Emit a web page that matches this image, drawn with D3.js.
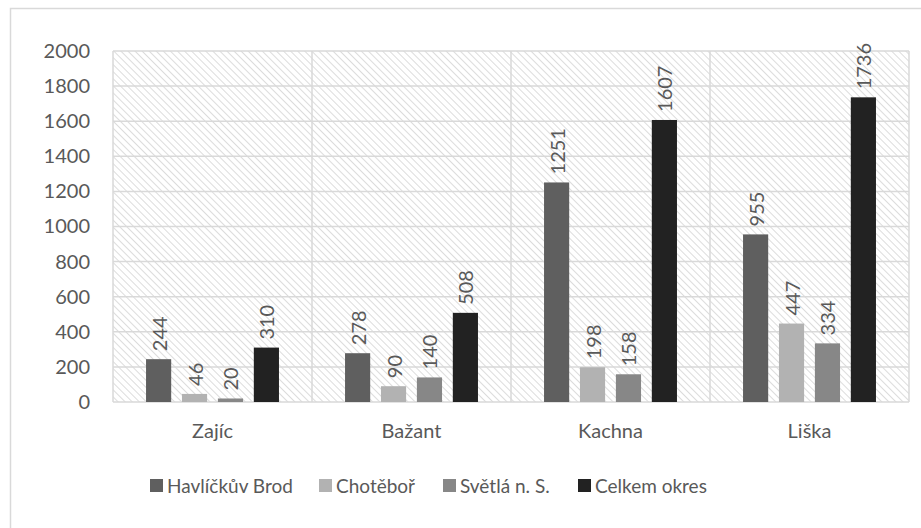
<!DOCTYPE html>
<html>
<head>
<meta charset="utf-8">
<script src="https://cdn.jsdelivr.net/npm/d3@7"></script>
<style>
  body { margin: 0; background: #fff; }
  svg text { font-family: Lato, "Open Sans", sans-serif; fill: #595959; }
</style>
</head>
<body>
<script>
// data
var categories = ['Zajíc', 'Bažant', 'Kachna', 'Liška'];
var seriesNames = ['Havlíčkův Brod', 'Chotěboř', 'Světlá n. S.', 'Celkem okres'];
var havlickuvBrod = [244, 278, 1251, 955];
var chotebor = [46, 90, 198, 447];
var svetla = [20, 140, 158, 334];
var celkem = [310, 508, 1607, 1736];
var yTicks = [0, 200, 400, 600, 800, 1000, 1200, 1400, 1600, 1800, 2000];
var colors = ['#5f5f5f', '#b2b2b2', '#878787', '#222222'];

var seriesValues = [havlickuvBrod, chotebor, svetla, celkem];

var W = 921, H = 528;
var margin = { top: 51, right: 12, bottom: 126, left: 113 };
var width = W - margin.left - margin.right,
    height = H - margin.top - margin.bottom;

var svg = d3.select('body').append('svg')
    .attr('width', W)
    .attr('height', H);

// hatch pattern in plot area
var defs = svg.append('defs');
var pat = defs.append('pattern')
    .attr('id', 'hatch')
    .attr('patternUnits', 'userSpaceOnUse')
    .attr('width', 5)
    .attr('height', 5)
    .attr('patternTransform', 'rotate(-45)');
pat.append('rect').attr('width', 5).attr('height', 5).attr('fill', '#fff');
pat.append('line')
    .attr('x1', 0).attr('y1', 0).attr('x2', 0).attr('y2', 5)
    .attr('stroke', '#d4d4d4')
    .attr('stroke-width', 1.6);

// outer border
svg.append('rect')
    .attr('x', 10.5).attr('y', 8.5)
    .attr('width', 960).attr('height', 600)
    .attr('fill', 'none')
    .attr('stroke', '#d9d9d9')
    .attr('stroke-width', 1.5);

var g = svg.append('g')
    .attr('transform', 'translate(' + margin.left + ',' + margin.top + ')');

var x0 = d3.scaleBand()
    .domain(categories)
    .range([0, width])
    .padding(0);

var x1 = d3.scaleBand()
    .domain(seriesNames)
    .range([x0.bandwidth() * 0.166, x0.bandwidth() * 0.834])
    .paddingInner(0.3)
    .paddingOuter(0);

var y = d3.scaleLinear()
    .domain([0, 2000])
    .range([height, 0]);

g.append('rect')
    .attr('width', width)
    .attr('height', height)
    .attr('fill', 'url(#hatch)');

// gridlines
g.selectAll('.hgrid')
    .data(yTicks)
    .enter().append('line')
    .attr('class', 'hgrid')
    .attr('x1', 0).attr('x2', width)
    .attr('y1', function(d) { return y(d); })
    .attr('y2', function(d) { return y(d); })
    .attr('stroke', '#d9d9d9')
    .attr('stroke-width', 1.5);

var vlines = [0].concat(categories.map(function(c) { return x0(c) + x0.bandwidth(); }));
g.selectAll('.vgrid')
    .data(vlines)
    .enter().append('line')
    .attr('class', 'vgrid')
    .attr('x1', function(d) { return d; })
    .attr('x2', function(d) { return d; })
    .attr('y1', 0).attr('y2', height)
    .attr('stroke', '#d9d9d9')
    .attr('stroke-width', 1.5);

// y axis labels
var yAxis = g.append('g')
    .attr('transform', 'translate(-23,0)')
    .call(d3.axisLeft(y).tickValues(yTicks).tickFormat(d3.format('d')).tickSize(0).tickPadding(0));
yAxis.select('.domain').remove();
yAxis.selectAll('text')
    .style('font-size', '20px')
    .attr('fill', '#595959');

// x axis labels
var xAxis = g.append('g')
    .attr('transform', 'translate(0,' + height + ')')
    .call(d3.axisBottom(x0).tickSize(0).tickPadding(22));
xAxis.select('.domain').remove();
xAxis.selectAll('text')
    .style('font-size', '20px')
    .attr('fill', '#595959');

// bars
var groups = g.selectAll('.cat')
    .data(categories)
    .enter().append('g')
    .attr('class', 'cat')
    .attr('transform', function(d) { return 'translate(' + x0(d) + ',0)'; });

groups.selectAll('rect')
    .data(function(c, ci) {
        return seriesNames.map(function(s, si) {
            return { series: s, idx: si, value: seriesValues[si][ci] };
        });
    })
    .enter().append('rect')
    .attr('x', function(d) { return x1(d.series); })
    .attr('width', x1.bandwidth())
    .attr('y', function(d) { return y(d.value); })
    .attr('height', function(d) { return height - y(d.value); })
    .attr('fill', function(d) { return colors[d.idx]; });

// value labels, rotated
groups.selectAll('.val')
    .data(function(c, ci) {
        return seriesNames.map(function(s, si) {
            return { series: s, idx: si, value: seriesValues[si][ci] };
        });
    })
    .enter().append('text')
    .attr('class', 'val')
    .attr('transform', function(d) {
        var cx = x1(d.series) + x1.bandwidth() / 2 + 1;
        return 'translate(' + cx + ',' + (y(d.value) - 8) + ') rotate(-90)';
    })
    .attr('dy', '0.35em')
    .style('font-size', '20px')
    .text(function(d) { return d.value; });

// legend
var legendX = [150, 319, 443, 578];
var legend = svg.append('g');
var items = legend.selectAll('.leg')
    .data(seriesNames)
    .enter().append('g')
    .attr('class', 'leg')
    .attr('transform', function(d, i) { return 'translate(' + legendX[i] + ',479)'; });
items.append('rect')
    .attr('width', 13).attr('height', 13)
    .attr('fill', function(d, i) { return colors[i]; });
items.append('text')
    .attr('x', 17)
    .attr('y', 14)
    .style('font-size', '19px')
    .text(function(d) { return d; });
</script>
</body>
</html>
